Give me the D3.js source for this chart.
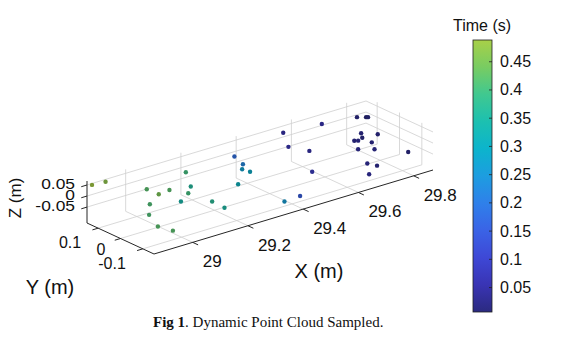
<!DOCTYPE html>
<html><head><meta charset="utf-8">
<script src="https://cdn.jsdelivr.net/npm/d3@7"></script>
<style>html,body{margin:0;padding:0;background:#fff;} svg{display:block;}</style>
</head><body>
<svg id="c" width="563" height="352"></svg>
<script>
// ---- data (metres / seconds) ----
const px = [28.866, 28.911, 29.002, 29.026, 29.059, 29.158, 29.133, 29.106, 28.980, 28.949, 29.061, 28.934, 28.968, 29.140, 29.158, 29.329, 29.321, 29.306, 29.312, 29.247, 29.538, 29.664, 29.514, 29.551, 29.490, 29.372, 29.422, 29.784, 29.804, 29.803, 29.748, 29.780, 29.740, 29.708, 29.717, 29.739, 29.687, 29.723, 29.815, 29.671, 29.703, 29.676];
const py = [0.135, 0.130, 0.058, 0.034, 0.027, 0.076, 0.023, 0.001, 0.017, -0.018, -0.022, -0.076, -0.101, -0.064, -0.097, 0.070, 0.022, 0.007, -0.021, -0.048, 0.110, 0.093, 0.057, 0.009, -0.079, -0.101, -0.109, 0.084, 0.068, 0.058, 0.021, -0.014, 0.006, 0.002, -0.004, -0.038, -0.041, -0.070, -0.107, -0.102, -0.106, -0.104];
const pz = [0.055, 0.055, 0.02, 0, 0.01, 0.03, 0, -0.01, -0.02, -0.04, -0.02, -0.06, -0.08, -0.03, -0.05, 0.04, 0.03, 0.02, 0.02, 0, 0.05, 0.05, 0.02, 0.01, -0.02, -0.10, -0.09, 0.04, 0.04, 0.045, 0.01, 0.01, 0, 0, 0, 0, -0.01, -0.01, -0.04, -0.04, -0.06, -0.09];
const times = [0.4885, 0.47, 0.42, 0.45, 0.42, 0.40, 0.36, 0.40, 0.41, 0.41, 0.34, 0.42, 0.42, 0.37, 0.35, 0.18, 0.22, 0.27, 0.29, 0.31, 0.05, 0.06, 0.06, 0.05, 0.08, 0.26, 0.15, 0.02, 0.0067, 0.015, 0.03, 0.025, 0.02, 0.03, 0.035, 0.03, 0.04, 0.035, 0.02, 0.04, 0.03, 0.045];

const xTicks = [29, 29.2, 29.4, 29.6, 29.8];
const yTicks = [-0.1, 0, 0.1];
const zTicks = [-0.05, 0, 0.05];
const cbTicks = [0.05, 0.1, 0.15, 0.2, 0.25, 0.3, 0.35, 0.4, 0.45];
const xDomain = [28.86, 29.87];
const yDomain = [-0.15, 0.15];
const zDomain = [-0.122, 0.068];
const timeDomain = [0.0067, 0.4885];
const cmapColors = ["#2b2a80", "#3934b4", "#3e48d6", "#3a63e6", "#2f80ea", "#1d9de0", "#0cb4cc", "#1cc0b0", "#40c890", "#78cc62", "#a8d048"];

// ---- projection ----
const svg = d3.select('#c');
const origin = [154, 254];
const ex = [279, -84], ey = [-67, -31], ez = [0, -42];
const fx = d3.scaleLinear().domain(xDomain).range([0, 1]);
const fy = d3.scaleLinear().domain(yDomain).range([0, 1]);
const fz = d3.scaleLinear().domain(zDomain).range([0, 1]);
function proj(x, y, z) {
  const a = fx(x), b = fy(y), c = fz(z);
  return [origin[0] + a*ex[0] + b*ey[0] + c*ez[0], origin[1] + a*ex[1] + b*ey[1] + c*ez[1]];
}
const [x0, x1] = xDomain, [y0, y1] = yDomain, [z0, z1] = zDomain;

// ---- grid ----
const grid = [];
xTicks.forEach(t => { grid.push([proj(t, y0, z0), proj(t, y1, z0)]); grid.push([proj(t, y1, z0), proj(t, y1, z1)]); });
yTicks.forEach(t => { grid.push([proj(x0, t, z0), proj(x1, t, z0)]); grid.push([proj(x1, t, z0), proj(x1, t, z1)]); });
zTicks.forEach(t => { grid.push([proj(x0, y1, t), proj(x1, y1, t)]); grid.push([proj(x1, y0, t), proj(x1, y1, t)]); });
svg.append('g').selectAll('line').data(grid).join('line')
  .attr('x1', d => d[0][0]).attr('y1', d => d[0][1]).attr('x2', d => d[1][0]).attr('y2', d => d[1][1])
  .attr('stroke', '#cfcfcf').attr('stroke-width', 0.8);

// ---- axes ----
const axes = [[proj(x0, y0, z0), proj(x1, y0, z0)], [proj(x0, y0, z0), proj(x0, y1, z0)], [proj(x0, y1, z0), proj(x0, y1, z1)]];
function unit(v, s) { const l = Math.hypot(v[0], v[1]); return [v[0]/l*s, v[1]/l*s]; }
const tx = unit([-ey[0], -ey[1]], 6), tyv = unit([-ex[0], -ex[1]], 6);
const ticks = [];
xTicks.forEach(t => { const p = proj(t, y0, z0); ticks.push([p, [p[0]+tx[0], p[1]+tx[1]]]); });
yTicks.forEach(t => { const p = proj(x0, t, z0); ticks.push([p, [p[0]+tyv[0], p[1]+tyv[1]]]); });
zTicks.forEach(t => { const p = proj(x0, y1, t); ticks.push([p, [p[0]+tyv[0], p[1]+tyv[1]]]); });
svg.append('g').selectAll('line').data(axes.concat(ticks)).join('line')
  .attr('x1', d => d[0][0]).attr('y1', d => d[0][1]).attr('x2', d => d[1][0]).attr('y2', d => d[1][1])
  .attr('stroke', '#262626').attr('stroke-width', 1);

const sans = "'Liberation Sans', Arial, Helvetica, sans-serif";
const fmt = d => String(d);
svg.append('g').selectAll('text').data(xTicks).join('text')
  .attr('x', d => proj(d, y0, z0)[0] + 10).attr('y', d => proj(d, y0, z0)[1] + 25)
  .attr('font-family', sans).attr('font-size', 17).attr('fill', '#111').text(fmt);
svg.append('g').selectAll('text').data(yTicks).join('text')
  .attr('x', d => proj(x0, d, z0)[0] - (d === 0 ? 15 : 17)).attr('y', d => proj(x0, d, z0)[1] + (d === 0 ? 16 : 20))
  .attr('text-anchor', 'end')
  .attr('font-family', sans).attr('font-size', 16).attr('fill', '#111').text(fmt);
svg.append('g').selectAll('text').data(zTicks).join('text')
  .attr('x', d => proj(x0, y1, d)[0] - 12).attr('y', d => proj(x0, y1, d)[1] + 4)
  .attr('text-anchor', 'end')
  .attr('font-family', sans).attr('font-size', 14.5).attr('fill', '#111')
  .attr('transform', d => { const p = proj(x0, y1, d); return `translate(${p[0]-12},0) scale(1.2,1) translate(${-(p[0]-12)},0)`; })
  .text(fmt);

svg.append('text').attr('x', 319).attr('y', 278).attr('text-anchor', 'middle')
  .attr('font-family', sans).attr('font-size', 20).attr('fill', '#111').text('X (m)');
svg.append('text').attr('x', 50).attr('y', 294).attr('text-anchor', 'middle')
  .attr('font-family', sans).attr('font-size', 20).attr('fill', '#111').text('Y (m)');
svg.append('text').attr('transform', 'translate(21,198) rotate(-90)').attr('text-anchor', 'middle')
  .attr('font-family', sans).attr('font-size', 17).attr('fill', '#111').text('Z (m)');

// ---- colour ----
const n = cmapColors.length;
const cStops = d3.range(n).map(i => timeDomain[0] + i*(timeDomain[1]-timeDomain[0])/(n-1));
const color = d3.scaleLinear().domain(cStops).range(cmapColors).interpolate(d3.interpolateRgb).clamp(true);

// ---- points ----
const pts = px.map((x, i) => ({x, y: py[i], z: pz[i], t: times[i]}));
svg.append('g').selectAll('circle').data(pts).join('circle')
  .attr('cx', d => proj(d.x, d.y, d.z)[0]).attr('cy', d => proj(d.x, d.y, d.z)[1])
  .attr('r', 2.2).attr('fill', d => d3.color(color(d.t)).darker(0.9));

// ---- colour bar ----
const cb = d3.scaleLinear().domain(timeDomain).range([312, 40]);
const cbX = 473, cbW = 19;
const grad = svg.append('defs').append('linearGradient').attr('id', 'cbg')
  .attr('x1', 0).attr('y1', 1).attr('x2', 0).attr('y2', 0);
grad.selectAll('stop').data(cStops).join('stop')
  .attr('offset', (d, i) => i/(n-1)).attr('stop-color', (d, i) => cmapColors[i]);
svg.append('rect').attr('x', cbX).attr('y', cb(timeDomain[1])).attr('width', cbW)
  .attr('height', cb(timeDomain[0]) - cb(timeDomain[1])).attr('fill', 'url(#cbg)')
  .attr('stroke', '#222').attr('stroke-width', 0.8);
svg.append('g').selectAll('line').data(cbTicks).join('line')
  .attr('x1', cbX + cbW).attr('x2', cbX + cbW - 3).attr('y1', d => cb(d)).attr('y2', d => cb(d))
  .attr('stroke', '#222').attr('stroke-width', 0.8);
svg.append('g').selectAll('text').data(cbTicks).join('text')
  .attr('x', 500).attr('y', d => cb(d) + 5.5)
  .attr('font-family', sans).attr('font-size', 16).attr('fill', '#111').text(fmt);
svg.append('text').attr('x', 482).attr('y', 31).attr('text-anchor', 'middle')
  .attr('font-family', sans).attr('font-size', 16).attr('fill', '#111').text('Time (s)');

// ---- caption ----
const cap = svg.append('text').attr('x', 153).attr('y', 327)
  .attr('font-family', "'Liberation Serif', 'Times New Roman', serif").attr('font-size', 15).attr('fill', '#111');
cap.append('tspan').attr('font-weight', 'bold').text('Fig 1');
cap.append('tspan').text('. Dynamic Point Cloud Sampled.');
</script>
</body></html>
